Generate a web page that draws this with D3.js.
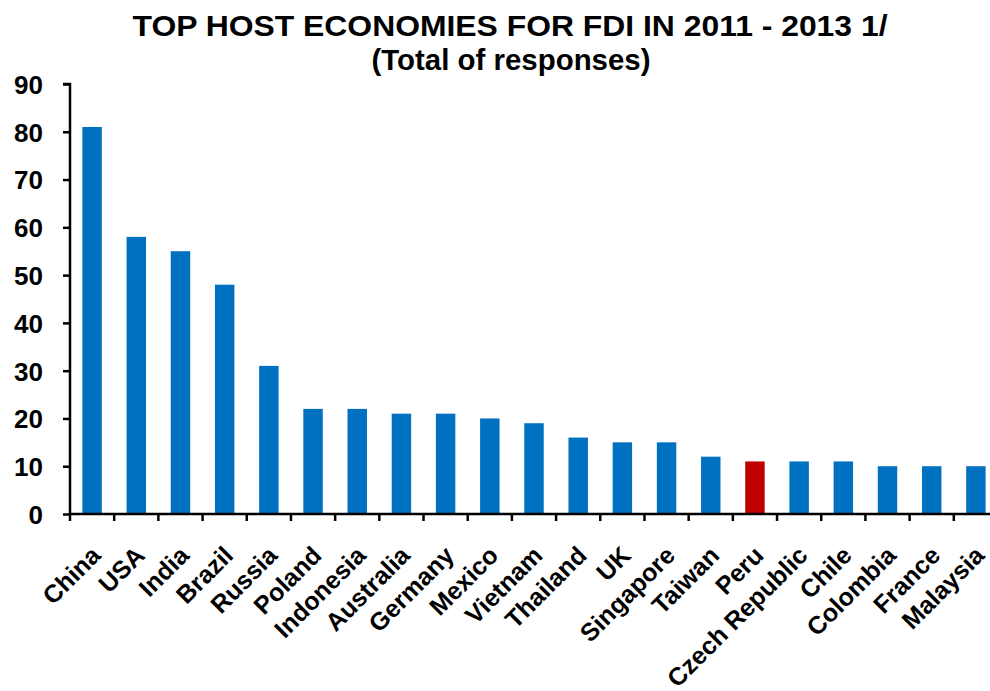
<!DOCTYPE html>
<html>
<head>
<meta charset="utf-8">
<script src="https://cdn.jsdelivr.net/npm/d3@7"></script>
<style>
  html, body { margin: 0; padding: 0; background: #fff; }
  svg { display: block; font-family: "Liberation Sans", Arial, sans-serif; font-weight: bold; }
</style>
</head>
<body>
<svg id="chart" width="990" height="691"></svg>
<script>
// Countries ranked by number of survey responses naming them as top FDI host
const countries = ["China", "USA", "India", "Brazil", "Russia", "Poland", "Indonesia",
  "Australia", "Germany", "Mexico", "Vietnam", "Thailand", "UK", "Singapore", "Taiwan",
  "Peru", "Czech Republic", "Chile", "Colombia", "France", "Malaysia"];
const responses = [81, 58, 55, 48, 31, 22, 22, 21, 21, 20, 19, 16, 15, 15, 12, 11, 11, 11, 10, 10, 10];
const highlighted = ["Peru"];
const yTicks = [0, 10, 20, 30, 40, 50, 60, 70, 80, 90];
const titleLines = ["TOP HOST ECONOMIES FOR FDI IN 2011  - 2013 1/", "(Total of responses)"];

const data = countries.map((c, i) => ({ country: c, value: responses[i] }));

const svg = d3.select("#chart");
const plotLeft = 70, plotRight = 998, plotTop = 84, plotBottom = 514;

const x = d3.scaleBand().domain(countries).range([plotLeft, plotRight]).padding(0);
const y = d3.scaleLinear().domain([0, 90]).range([plotBottom, plotTop]);

// Title
svg.append("text")
  .attr("x", 510).attr("y", 36)
  .attr("text-anchor", "middle")
  .attr("font-size", 30)
  .attr("textLength", 755).attr("lengthAdjust", "spacingAndGlyphs")
  .text(titleLines[0]);
svg.append("text")
  .attr("x", 511).attr("y", 70)
  .attr("text-anchor", "middle")
  .attr("font-size", 30)
  .attr("textLength", 279).attr("lengthAdjust", "spacingAndGlyphs")
  .text(titleLines[1]);

// Bars
const barW = x.bandwidth() * 0.44;
svg.append("g").selectAll("rect").data(data).join("rect")
  .attr("x", d => x(d.country) + (x.bandwidth() - barW) / 2)
  .attr("y", d => y(d.value))
  .attr("width", barW)
  .attr("height", d => y(0) - y(d.value))
  .attr("fill", d => highlighted.includes(d.country) ? "#C00000" : "#0070C0");

// Y axis
const yAxis = d3.axisLeft(y).tickValues(yTicks).tickSize(7).tickPadding(0).tickFormat(d3.format("d"));
const gy = svg.append("g").attr("transform", `translate(${plotLeft},0)`).call(yAxis);
gy.select(".domain").attr("stroke", "#000").attr("stroke-width", 2.5)
  .attr("d", `M-7,${plotTop}H0V${plotBottom}`);
gy.selectAll(".tick line").attr("stroke", "#000").attr("stroke-width", 2.5);
gy.selectAll(".tick text")
  .attr("x", -27).attr("dy", "0.36em")
  .attr("font-size", 26)
  .attr("font-family", "'Liberation Sans', Arial, sans-serif")
  .attr("font-weight", "bold")
  .attr("fill", "#000")
  .attr("text-anchor", "end");

// X axis: ticks at category boundaries
const gx = svg.append("g").attr("transform", `translate(0,${plotBottom})`);
gx.append("line").attr("x1", plotLeft).attr("x2", plotRight).attr("y1", 0).attr("y2", 0)
  .attr("stroke", "#000").attr("stroke-width", 2.5);
const boundaries = countries.map(c => x(c)).concat([plotRight]);
gx.selectAll("line.tk").data(boundaries).join("line").attr("class", "tk")
  .attr("x1", d => d).attr("x2", d => d).attr("y1", 0).attr("y2", 7)
  .attr("stroke", "#000").attr("stroke-width", 2.5);

// Category labels, rotated 45 degrees
svg.append("g").selectAll("text").data(countries).join("text")
  .attr("transform", c => `translate(${x(c) + x.bandwidth() / 2 + 10},557) rotate(-45)`)
  .attr("text-anchor", "end")
  .attr("font-size", 25)
  .attr("fill", "#000")
  .text(c => c);
</script>
</body>
</html>
